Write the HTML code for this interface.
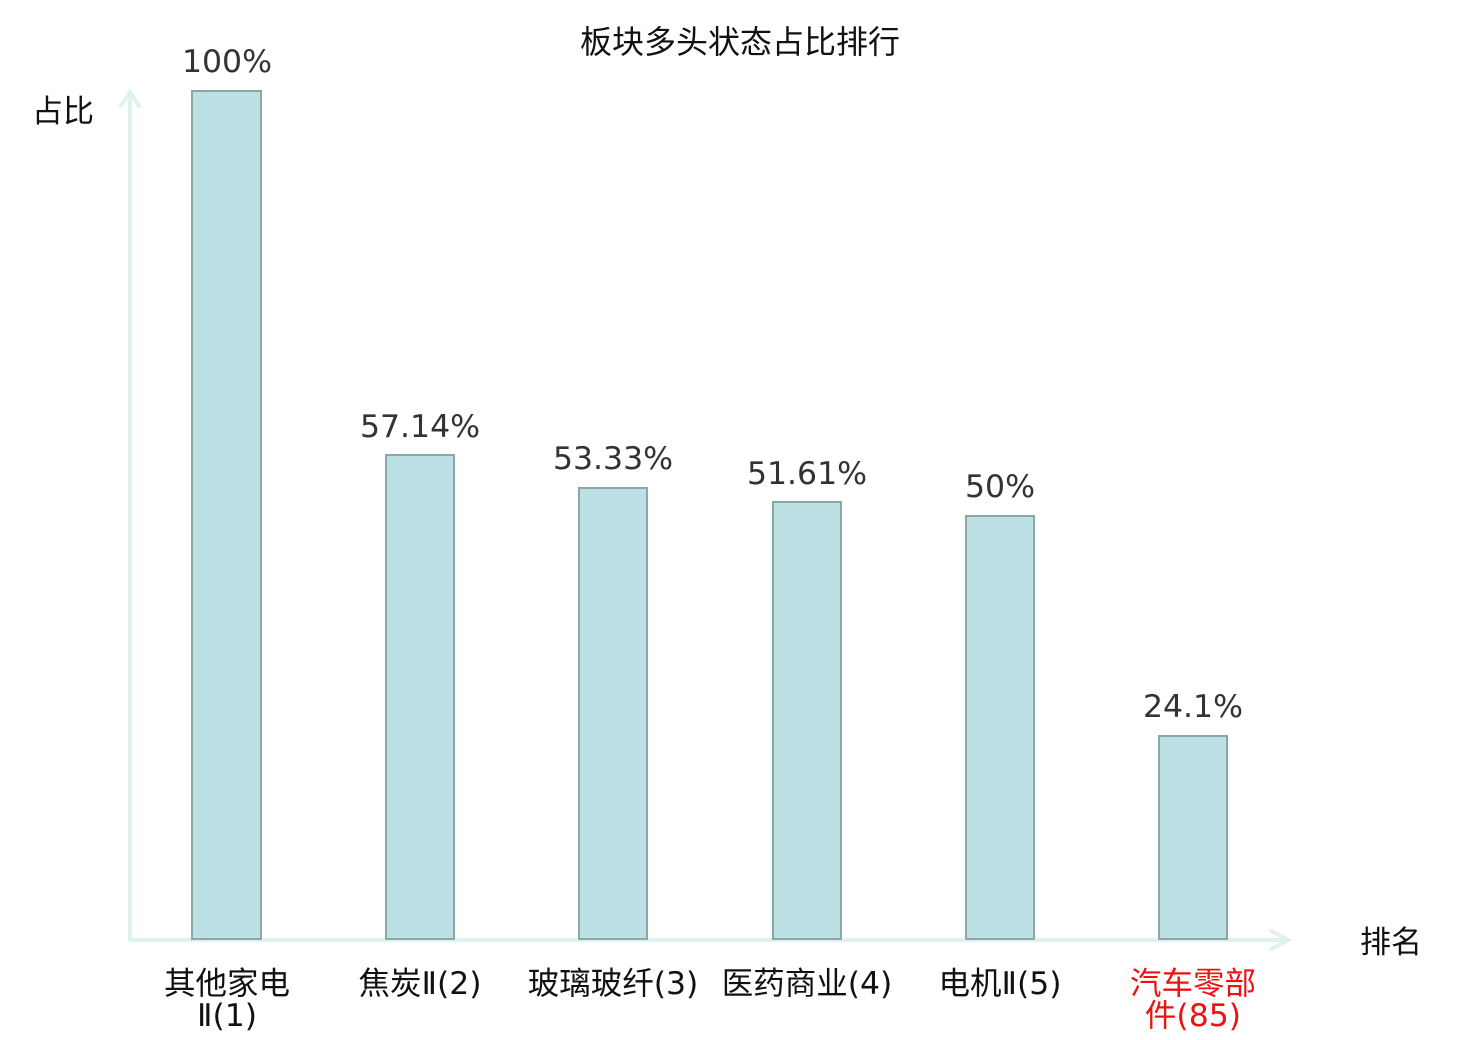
<!DOCTYPE html>
<html><head><meta charset="utf-8"><style>body{margin:0;background:#fff}svg{display:block}</style></head><body>
<svg width="1480" height="1040" xmlns="http://www.w3.org/2000/svg" font-family="'DejaVu Sans','Noto Sans CJK SC',sans-serif">
<text x="740" y="53" text-anchor="middle" font-size="32" fill="#111">板块多头状态占比排行</text>
<g stroke="#dff2ef" stroke-width="4" fill="none" stroke-linecap="round">
<line x1="130" y1="940" x2="130" y2="92"/><polyline points="121,106 130,92 139,106"/>
<line x1="130" y1="940" x2="1288" y2="940"/><polyline points="1272,931 1288,940 1272,949"/>
</g>
<text x="63" y="122" text-anchor="middle" font-size="31" fill="#111">占比</text>
<text x="1391" y="953" text-anchor="middle" font-size="31" fill="#111">排名</text>
<g fill="#bce0e3" stroke="#8aa8a8" stroke-width="2">
<rect x="192" y="91" width="69" height="848"/>
<rect x="386" y="455" width="68" height="484"/>
<rect x="579" y="488" width="68" height="451"/>
<rect x="773" y="502" width="68" height="437"/>
<rect x="966" y="516" width="68" height="423"/>
<rect x="1159" y="736" width="68" height="203"/>
</g>
<g font-size="31.5" fill="#333" text-anchor="middle">
<text x="227" y="72">100%</text>
<text x="420" y="437">57.14%</text>
<text x="613" y="469">53.33%</text>
<text x="807" y="484">51.61%</text>
<text x="1000" y="497">50%</text>
<text x="1193" y="717">24.1%</text>
</g>
<g font-size="31.5" fill="#111" text-anchor="middle">
<text x="227" y="994">其他家电</text><text x="227" y="1026">Ⅱ(1)</text>
<text x="420" y="994">焦炭Ⅱ(2)</text>
<text x="613" y="994">玻璃玻纤(3)</text>
<text x="807" y="994">医药商业(4)</text>
<text x="1000" y="994">电机Ⅱ(5)</text>
<text x="1193" y="994" fill="#ee1111">汽车零部</text><text x="1193" y="1026" fill="#ee1111">件(85)</text>
</g>
</svg>
</body></html>
